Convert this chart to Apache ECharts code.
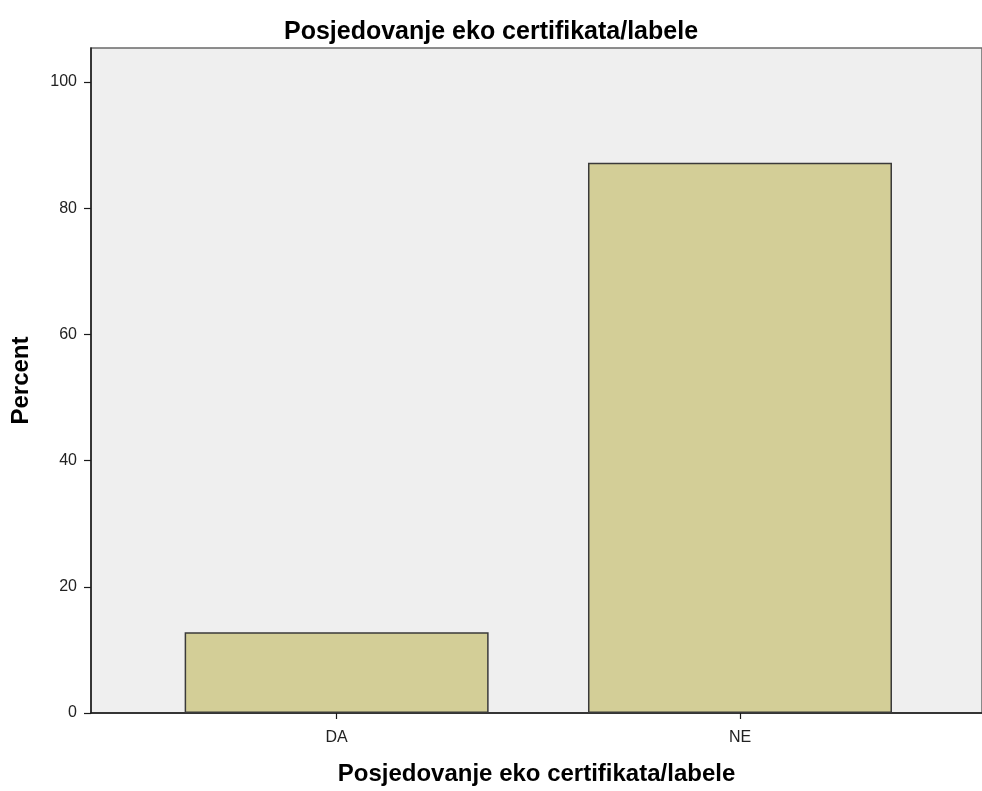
<!DOCTYPE html>
<html>
<head>
<meta charset="utf-8">
<script src="https://cdn.jsdelivr.net/npm/echarts@6/dist/echarts.min.js"></script>
<style>
  html, body { margin: 0; padding: 0; background: #fff; }
  #main { width: 982px; height: 791px; }
</style>
</head>
<body>
<div id="main"></div>
<script>
// data
var categories = ["DA", "NE"];
var percentValues = [12.8, 87.2];
var yTicks = [0, 20, 40, 60, 80, 100];

var chart = echarts.init(document.getElementById("main"));

// bars sit at positions 1, 2 on a value axis so the spacing can match the original
var barData = [];
for (var i = 0; i < categories.length; i++) {
  barData.push([i + 1, percentValues[i]]);
}
var catPos = barData.map(function (d) { return d[0]; });

var font = "'Liberation Sans', Arial, sans-serif";

var option = {
  animation: false,
  title: {
    text: "Posjedovanje eko certifikata/labele",
    left: "center",
    top: 15,
    textStyle: { fontFamily: font, fontSize: 25, fontWeight: "bold", color: "#000" }
  },
  grid: {
    left: 91,
    top: 48,
    right: -3,
    bottom: 74,
    show: true,
    backgroundColor: "#EFEFEF",
    borderColor: "#6a6a6a",
    borderWidth: 1.5
  },
  xAxis: {
    type: "value",
    min: 0.391,
    max: 2.6,
    name: "Posjedovanje eko certifikata/labele",
    nameLocation: "middle",
    nameGap: 49,
    nameTextStyle: { fontFamily: font, fontSize: 24, fontWeight: "bold", color: "#000" },
    axisLine: { show: true, lineStyle: { color: "#1a1a1a", width: 1.5 } },
    axisTick: { show: true, length: 6, customValues: catPos, lineStyle: { color: "#1a1a1a", width: 1.2 } },
    axisLabel: {
      customValues: catPos,
      margin: 17,
      fontFamily: font,
      fontSize: 16,
      color: "#222"
    ,
      formatter: function (v) { return categories[Math.round(v) - 1] || ""; }
    },
    splitLine: { show: false }
  },
  yAxis: {
    type: "value",
    min: 0,
    max: 105.4,
    name: "Percent",
    nameLocation: "middle",
    nameRotate: 90,
    nameGap: 58,
    nameTextStyle: { fontFamily: font, fontSize: 24, fontWeight: "bold", color: "#000" },
    axisLine: { show: true, lineStyle: { color: "#1a1a1a", width: 1.5 } },
    axisTick: { show: true, length: 7, customValues: yTicks, lineStyle: { color: "#1a1a1a", width: 1.2 } },
    axisLabel: {
      customValues: yTicks,
      margin: 14,
      fontFamily: font,
      fontSize: 16,
      color: "#222"
    },
    splitLine: { show: false }
  },
  series: [
    {
      type: "bar",
      data: barData,
      barWidth: 304,
      itemStyle: {
        color: "#D3CE97",
        borderColor: "#3a3a3a",
        borderWidth: 1.5
      }
    }
  ]
};

chart.setOption(option);
</script>
</body>
</html>
